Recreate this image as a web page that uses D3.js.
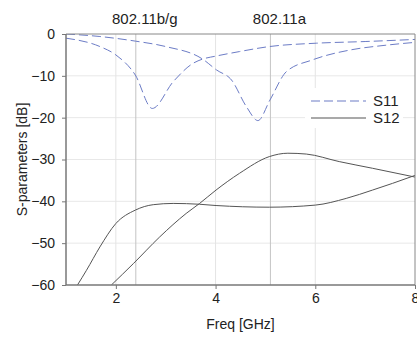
<!DOCTYPE html>
<html>
<head>
<meta charset="utf-8">
<script src="https://cdn.jsdelivr.net/npm/d3@7"></script>
<style>
  body { margin: 0; background: #fff; }
  svg { display: block; font-family: "Liberation Sans", Arial, sans-serif; }
</style>
</head>
<body>
<svg id="chart" width="417" height="338"></svg>
<script>
// S11, first resonance (dip near 2.7 GHz)
const freqS11a = [1.0, 1.68, 2.0, 2.39, 2.73, 3.15, 3.55, 3.74, 4.0, 4.48, 5.08, 6.02, 7.0, 8.0];
const s11a = [-1.0, -3.0, -5.0, -9.8, -17.8, -11.4, -7.0, -6.0, -5.3, -4.2, -3.0, -2.2, -1.8, -1.3];
// S11, second resonance (dip near 4.85 GHz)
const freqS11b = [1.0, 1.68, 2.39, 3.0, 3.74, 4.02, 4.32, 4.62, 4.85, 5.09, 5.42, 5.94, 6.71, 7.4, 8.0];
const s11b = [0, -0.6, -1.7, -3.0, -6.0, -8.6, -11.0, -17.4, -20.7, -15.8, -9.0, -6.2, -3.8, -2.7, -2.0];
// S12 curves
const freqS12a = [1.23, 1.41, 1.68, 2.0, 2.39, 2.75, 3.15, 3.68, 4.01, 5.08, 6.0, 6.62, 7.15, 7.55, 8.0];
const s12a = [-60, -56.5, -50.9, -45.3, -42.1, -40.8, -40.5, -40.7, -41.0, -41.4, -40.9, -39.3, -37.3, -35.7, -33.8];
const freqS12b = [1.91, 2.35, 2.88, 3.41, 3.68, 4.01, 4.48, 5.08, 5.45, 5.82, 6.48, 7.15, 8.0];
const s12b = [-60, -54.9, -48.5, -42.9, -40.5, -37.3, -33.3, -29.3, -28.5, -28.7, -30.5, -32.1, -34.2];

const xTicks = [2, 4, 6, 8];
const yTicks = [0, -10, -20, -30, -40, -50, -60];
const bandFreqs = [2.4, 5.1];
const bandLabels = ['802.11b/g', '802.11a'];
const legendNames = ['S11', 'S12'];

const svg = d3.select('#chart');
const margin = { top: 34, right: 2, bottom: 53, left: 66 };
const width = +svg.attr('width');
const height = +svg.attr('height');

const x = d3.scaleLinear().domain([1, 8]).range([margin.left, width - margin.right]);
const y = d3.scaleLinear().domain([-60, 0]).range([height - margin.bottom, margin.top]);

const blue = '#6c7cc6';
const gray = '#555';

svg.append('defs').append('clipPath').attr('id', 'clip')
  .append('rect')
  .attr('x', x(1)).attr('y', y(0))
  .attr('width', x(8) - x(1)).attr('height', y(-60) - y(0));

// grid
svg.append('g').selectAll('line').data(yTicks.filter(d => d > -60 && d < 0)).join('line')
  .attr('x1', x(1)).attr('x2', x(8))
  .attr('y1', d => y(d)).attr('y2', d => y(d))
  .attr('stroke', '#e8e8e8');
svg.append('g').selectAll('line').data(xTicks.filter(d => d < 8)).join('line')
  .attr('x1', d => x(d)).attr('x2', d => x(d))
  .attr('y1', y(0)).attr('y2', y(-60))
  .attr('stroke', '#e4e4e4');

// band markers
svg.append('g').selectAll('line').data(bandFreqs).join('line')
  .attr('x1', d => x(d)).attr('x2', d => x(d))
  .attr('y1', y(0)).attr('y2', y(-60))
  .attr('stroke', '#c4c4c4');
svg.append('g').selectAll('text').data(bandFreqs).join('text')
  .attr('x', d => x(d) + 9)
  .attr('y', 24)
  .attr('text-anchor', 'middle')
  .style('font-size', '15px')
  .style('fill', '#222')
  .text((d, i) => bandLabels[i]);

// curves
const line = d3.line()
  .x(d => x(d[0]))
  .y(d => y(d[1]))
  .curve(d3.curveMonotoneX);

const curves = svg.append('g').attr('clip-path', 'url(#clip)');
curves.append('path')
  .datum(freqS11a.map((f, i) => [f, s11a[i]]))
  .attr('fill', 'none').attr('stroke', blue).attr('stroke-width', 1)
  .attr('stroke-dasharray', '9,4')
  .attr('d', line);
curves.append('path')
  .datum(freqS11b.map((f, i) => [f, s11b[i]]))
  .attr('fill', 'none').attr('stroke', blue).attr('stroke-width', 1)
  .attr('stroke-dasharray', '9,4')
  .attr('d', line);
curves.append('path')
  .datum(freqS12a.map((f, i) => [f, s12a[i]]))
  .attr('fill', 'none').attr('stroke', gray).attr('stroke-width', 1)
  .attr('d', line);
curves.append('path')
  .datum(freqS12b.map((f, i) => [f, s12b[i]]))
  .attr('fill', 'none').attr('stroke', gray).attr('stroke-width', 1)
  .attr('d', line);

// frame (top and right)
svg.append('line')
  .attr('x1', x(1)).attr('x2', x(8)).attr('y1', y(0)).attr('y2', y(0))
  .attr('stroke', '#888');
svg.append('line')
  .attr('x1', x(8)).attr('x2', x(8)).attr('y1', y(0)).attr('y2', y(-60))
  .attr('stroke', '#888');

// axes
const yAxis = svg.append('g')
  .attr('transform', `translate(${x(1)},0)`)
  .call(d3.axisLeft(y).tickValues(yTicks).tickSize(4).tickPadding(7).tickFormat(d3.format('d')));
const xAxis = svg.append('g')
  .attr('transform', `translate(0,${y(-60)})`)
  .call(d3.axisBottom(x).tickValues(xTicks).tickSize(4).tickPadding(4).tickFormat(d3.format('d')));

[yAxis, xAxis].forEach(a => {
  a.select('.domain').attr('stroke', '#777').attr('stroke-width', 1.5);
  a.selectAll('.tick line').attr('stroke', '#777');
  a.selectAll('.tick text')
    .style('font-size', '14px')
    .style('font-family', '"Liberation Sans", Arial, sans-serif')
    .attr('fill', '#222');
});
xAxis.select('.domain').attr('d', `M${x(1)},0H${x(8)}`);
yAxis.select('.domain').attr('d', `M0,${y(-60)}V${y(0)}`);

// axis titles
svg.append('text')
  .attr('x', (x(1) + x(8)) / 2)
  .attr('y', 329)
  .attr('text-anchor', 'middle')
  .style('font-size', '14px')
  .style('fill', '#222')
  .text('Freq [GHz]');
svg.append('text')
  .attr('transform', `translate(27,${(y(0) + y(-60)) / 2}) rotate(-90)`)
  .attr('text-anchor', 'middle')
  .style('font-size', '14px')
  .style('fill', '#222')
  .text('S-parameters [dB]');

// legend
const legend = svg.append('g').attr('transform', 'translate(305,88)');
legend.append('rect')
  .attr('width', 98).attr('height', 40)
  .attr('fill', '#fff');
legendNames.forEach((name, i) => {
  const ly = 13 + i * 17;
  legend.append('line')
    .attr('x1', 6).attr('x2', 61).attr('y1', ly).attr('y2', ly)
    .attr('stroke', i === 0 ? blue : gray)
    .attr('stroke-width', 1.2)
    .attr('stroke-dasharray', i === 0 ? '9,4' : null);
  legend.append('text')
    .attr('x', 68).attr('y', ly + 5)
    .style('font-size', '15px')
    .style('fill', '#222')
    .text(name);
});
</script>
</body>
</html>
